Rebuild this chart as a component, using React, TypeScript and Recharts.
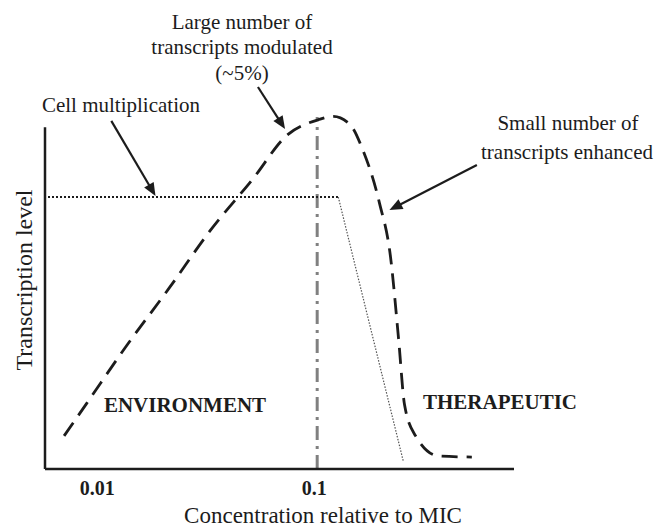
import React from "react";
import { LineChart, Line, XAxis, YAxis, ReferenceLine } from "recharts";

// Concentration relative to MIC (log scale) and transcription level (arbitrary units)
const responseConc = [0.00681, 0.00861, 0.01319, 0.02064, 0.0323, 0.0505, 0.0726, 0.1011, 0.1186, 0.1422, 0.1616, 0.1936, 0.2178, 0.2371, 0.2529, 0.2842, 0.3633, 0.5164];
const responseLevel = [9.7, 19.0, 36.0, 52.7, 70.0, 84.9, 97.7, 102.2, 103.2, 100.7, 93.7, 77.9, 62.1, 38.3, 18.7, 9.7, 3.8, 3.5];

const growthConc = [0.00574, 0.1251];
const growthLevel = [79.6, 79.6];
const killConc = [0.1251, 0.2501];
const killLevel = [79.6, 2.0];

const xTicks = [0.01, 0.1];
const xTickLabels = ["0.01", "0.1"];
const xDomain = [0.00556, 0.808];
const yDomain = [0, 120];
const yAxisTop = 100;
const micLine = 0.1;
const micLineTop = 103;

const arrows = [
  { from: [0.05331, 111.8], to: [0.07109, 99.5] },
  { from: [0.01124, 101.9], to: [0.01797, 79.9] },
  { from: [0.5447, 89.0], to: [0.2154, 75.8] },
];

const FONT = '"Liberation Serif", "Times New Roman", serif';
const INK = "#1c1c1c";

const toRows = (xs: number[], ys: number[]) => xs.map((x, i) => ({ x, y: ys[i] }));
const responseData = toRows(responseConc, responseLevel);
const growthData = toRows(growthConc, growthLevel);
const killData = toRows(killConc, killLevel);

const ArrowShape = (props: any) => {
  const { x1, y1, x2, y2 } = props;
  const dx = x2 - x1;
  const dy = y2 - y1;
  const len = Math.sqrt(dx * dx + dy * dy) || 1;
  const ux = dx / len;
  const uy = dy / len;
  const hl = 13;
  const hw = 5.5;
  const bx = x2 - ux * hl;
  const by = y2 - uy * hl;
  const pts = `${x2},${y2} ${bx - uy * hw},${by + ux * hw} ${bx + uy * hw},${by - ux * hw}`;
  return (
    <g>
      <line x1={x1} y1={y1} x2={bx + ux * 2} y2={by + uy * 2} stroke={INK} strokeWidth={2.2} />
      <polygon points={pts} fill={INK} />
    </g>
  );
};

const TickLabel = (props: any) => {
  const { x, y, payload } = props;
  const idx = xTicks.indexOf(payload.value);
  return (
    <text x={x - 3} y={y + 26} textAnchor="middle" fontFamily={FONT} fontWeight="bold" fontSize={20} fill={INK}>
      {idx >= 0 ? xTickLabels[idx] : String(payload.value)}
    </text>
  );
};

export default function App() {
  return (
    <div style={{ position: "absolute", left: 0, top: 0, width: 659, height: 529, background: "#fff" }}>
      <LineChart width={659} height={529} margin={{ top: 59, right: 145, bottom: 30, left: 45 }}>
        <XAxis
          dataKey="x"
          type="number"
          scale="log"
          domain={xDomain}
          allowDataOverflow
          ticks={xTicks}
          tickLine={false}
          tickSize={0}
          tickMargin={0}
          height={30}
          axisLine={{ stroke: INK, strokeWidth: 2.5 }}
          tick={<TickLabel />}
        />
        <YAxis type="number" domain={yDomain} hide allowDataOverflow />
        <ReferenceLine
          segment={[{ x: xDomain[0], y: 0 }, { x: xDomain[0], y: yAxisTop }]}
          stroke={INK}
          strokeWidth={2.5}
          ifOverflow="visible"
        />
        <ReferenceLine
          segment={[{ x: micLine, y: 0 }, { x: micLine, y: micLineTop }]}
          stroke="#808080"
          strokeWidth={3}
          strokeDasharray="14 6 3 6"
          ifOverflow="visible"
        />
        <Line
          data={growthData}
          dataKey="y"
          type="linear"
          stroke={INK}
          strokeWidth={2}
          strokeDasharray="2 2"
          dot={false}
          isAnimationActive={false}
        />
        <Line
          data={killData}
          dataKey="y"
          type="linear"
          stroke="#555"
          strokeWidth={1.2}
          strokeDasharray="1.5 1.5"
          dot={false}
          isAnimationActive={false}
        />
        <Line
          data={responseData}
          dataKey="y"
          type="monotone"
          stroke={INK}
          strokeWidth={2.8}
          strokeDasharray="16 9"
          dot={false}
          isAnimationActive={false}
        />
        {arrows.map((a, i) => (
          <ReferenceLine
            key={i}
            segment={[{ x: a.from[0], y: a.from[1] }, { x: a.to[0], y: a.to[1] }]}
            ifOverflow="visible"
            shape={(p: any) => <ArrowShape {...p} />}
          />
        ))}
      </LineChart>
      <svg width={659} height={529} style={{ position: "absolute", left: 0, top: 0, pointerEvents: "none" }}>
        <g fontFamily={FONT} fill={INK} textAnchor="middle" dominantBaseline="central">
          <text x={242} y={22} fontSize={21}>Large number of</text>
          <text x={242} y={47} fontSize={21}>transcripts modulated</text>
          <text x={242} y={73} fontSize={21}>(~5%)</text>
          <text x={121} y={105} fontSize={21}>Cell multiplication</text>
          <text x={568} y={123} fontSize={21}>Small number of</text>
          <text x={567} y={152} fontSize={21}>transcripts enhanced</text>
          <text x={185} y={405} fontSize={21} fontWeight="bold">ENVIRONMENT</text>
          <text x={500} y={402} fontSize={21} fontWeight="bold">THERAPEUTIC</text>
          <text x={323} y={515} fontSize={23}>Concentration relative to MIC</text>
          <text x={24} y={280} fontSize={24} transform="rotate(-90 24 280)">Transcription level</text>
        </g>
      </svg>
    </div>
  );
}
